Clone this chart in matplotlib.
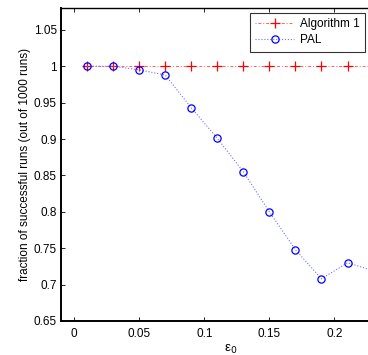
import numpy as np
import matplotlib.pyplot as plt

plt.rcParams['font.family'] = ['Liberation Sans', 'DejaVu Sans']

# data
eps0 = [0.01, 0.03, 0.05, 0.07, 0.09, 0.11, 0.13, 0.15, 0.17, 0.19, 0.21, 0.23]
alg1 = [1.0, 1.0, 1.0, 1.0, 1.0, 1.0, 1.0, 1.0, 1.0, 1.0, 1.0, 1.0]
pal = [1.0, 1.0, 0.995, 0.988, 0.943, 0.901, 0.855, 0.800, 0.748, 0.708, 0.730, 0.719]
xticks = [0, 0.05, 0.1, 0.15, 0.2]
xlabels = ['0', '0.05', '0.1', '0.15', '0.2']
yticks = [0.65, 0.7, 0.75, 0.8, 0.85, 0.9, 0.95, 1.0, 1.05]
ylabels = ['0.65', '0.7', '0.75', '0.8', '0.85', '0.9', '0.95', '1', '1.05']

W, H = 368, 355
fig = plt.figure(figsize=(W / 100, H / 100), dpi=100)

# axes run past the right edge of the picture (cropped original)
x0_px, right_px = 61, 399.6
top_px, bot_px = 8, 321
ax = fig.add_axes([x0_px / W, (H - bot_px) / H,
                   (right_px - x0_px) / W, (bot_px - top_px) / H])

ax.plot(eps0, alg1, linestyle=(0, (1, 2, 3, 2)), color='#ff6060', lw=0.7,
        marker='+', ms=6.5, mew=0.9, mec='red', label='Algorithm 1')
ax.plot(eps0, pal, linestyle=':', color='#7070ff', lw=0.8,
        marker='o', ms=5.2, mfc='none', mew=0.9, mec='blue', label='PAL')

ax.set_xlim(-0.01, 0.25)
ax.set_ylim(0.65, 1.08)
ax.set_xticks(xticks)
ax.set_xticklabels(xlabels)
ax.set_yticks(yticks)
ax.set_yticklabels(ylabels)
ax.tick_params(direction='in', top=True, right=True, labelsize=8.5,
               length=3, width=0.6)
ax.tick_params(axis='y', pad=3)
ax.tick_params(axis='x', pad=5)

for s in ax.spines.values():
    s.set_linewidth(1.0)
ax.spines['left'].set_linewidth(1.4)
ax.spines['bottom'].set_linewidth(1.4)

ax.set_xlabel('ε$_0$', fontsize=9.5, labelpad=2)
ax.set_ylabel('fraction of successful runs (out of 1000 runs)', fontsize=8.5, labelpad=2)

leg = ax.legend(loc='upper right', bbox_to_anchor=(365 / W, (H - 13) / H),
                bbox_transform=fig.transFigure, fontsize=8.5, frameon=True,
                fancybox=False, borderpad=0.45, handlelength=3.3,
                handletextpad=0.5, labelspacing=0.35, borderaxespad=0)
leg.get_frame().set_edgecolor('black')
leg.get_frame().set_linewidth(0.8)

fig.savefig('out.png', dpi=100)
